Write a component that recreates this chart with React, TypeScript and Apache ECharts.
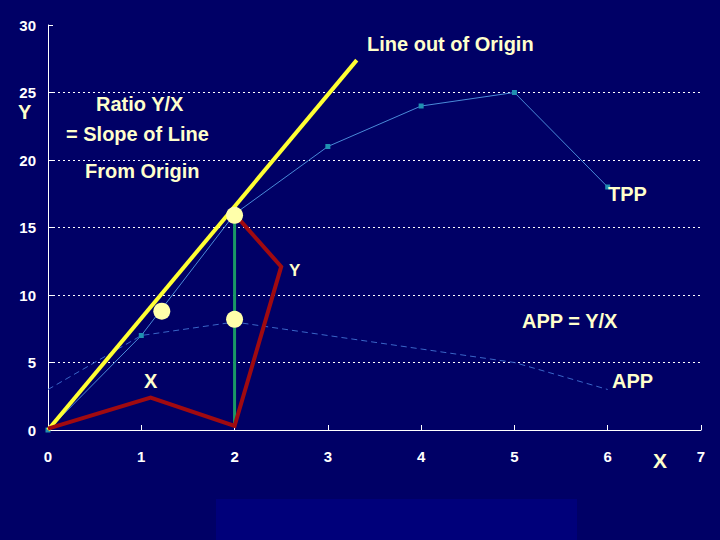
import React, { useEffect, useRef } from "react";
import * as echarts from "echarts";

const xTicks = [0, 1, 2, 3, 4, 5, 6, 7];
const tppX = [0, 1, 2, 3, 4, 5, 6];
const tppY = [0, 7, 16, 21, 24, 25, 18];
const appY = [3, 7, 8, 7, 6, 5, 3];
const rayLine = [[0, 0], [3.31, 27.4]];
const redPath = [[0, 0.1], [1.1, 2.4], [2, 0.3], [2.5, 12.1], [2.05, 15.6]];
const greenLine = [[2, 0.2], [2, 15.9]];
const dots = [[2, 15.9], [1.22, 8.8], [2, 8.2]];

const BG = "#000066";
const TXT = "#ffffcc";

export default function App() {
  const ref = useRef<HTMLDivElement>(null);
  useEffect(() => {
    const chart = echarts.init(ref.current!, null, { renderer: "svg" });
    const lbl = (text: string, x: number, y: number, size = 20) => ({
      type: "text",
      left: x,
      top: y,
      style: {
        text,
        fill: TXT,
        font: `bold ${size}px "Liberation Sans", Arial, sans-serif`,
      },
      z: 100,
    });
    chart.setOption({
      animation: false,
      backgroundColor: BG,
      grid: { left: 48, right: 19, top: 25, bottom: 110, containLabel: false },
      xAxis: {
        type: "value",
        min: 0,
        max: 7,
        interval: 1,
        axisLine: { lineStyle: { color: "#ffffff", width: 1 } },
        axisTick: { inside: true, length: 5, lineStyle: { color: "#ffffff" } },
        axisLabel: {
          color: "#ffffff",
          fontWeight: "bold",
          fontSize: 15,
          fontFamily: "Liberation Sans, Arial, sans-serif",
          margin: 19,
        },
        splitLine: { show: false },
      },
      yAxis: {
        type: "value",
        min: 0,
        max: 30,
        interval: 5,
        axisLine: { show: true, lineStyle: { color: "#ffffff", width: 1 } },
        axisTick: { show: true, inside: true, length: 5, lineStyle: { color: "#ffffff" } },
        axisLabel: {
          color: "#ffffff",
          fontWeight: "bold",
          fontSize: 15,
          fontFamily: "Liberation Sans, Arial, sans-serif",
          margin: 12,
        },
        splitLine: {
          show: true,
          showMinLine: false,
          showMaxLine: false,
          lineStyle: { color: "#ffffff", type: [2, 3], width: 1 },
        },
      },
      graphic: [
        {
          type: "rect",
          shape: { x: 216, y: 499, width: 361, height: 41 },
          style: { fill: "#00007a" },
          z: -10,
        },
        lbl("Line out of Origin", 367, 34),
        lbl("Ratio Y/X", 96, 94),
        lbl("= Slope of Line", 66, 124),
        lbl("From Origin", 85, 161),
        lbl("TPP", 608, 184),
        lbl("Y", 289, 262, 17),
        lbl("APP = Y/X", 522, 311),
        lbl("X", 144, 371),
        lbl("APP", 612, 371),
        lbl("X", 653, 450, 21),
        lbl("Y", 18, 102, 20),
      ],
      series: [
        {
          name: "TPP",
          type: "line",
          data: tppX.map((x, i) => [x, tppY[i]]),
          lineStyle: { color: "#4a8ad8", width: 1 },
          symbol: "rect",
          symbolSize: 5,
          itemStyle: { color: "#2090b0" },
          z: 3,
        },
        {
          name: "APP",
          type: "line",
          data: tppX.map((x, i) => [x, appY[i]]),
          lineStyle: { color: "#3a66c8", width: 1, type: [6, 4] },
          symbol: "none",
          z: 3,
        },
        {
          name: "Ray",
          type: "line",
          data: rayLine,
          lineStyle: { color: "#ffff33", width: 4 },
          symbol: "none",
          z: 4,
        },
        {
          name: "Green",
          type: "line",
          data: greenLine,
          lineStyle: { color: "#1a9966", width: 3, opacity: 1 },
          symbol: "none",
          z: 4,
        },
        {
          name: "Red",
          type: "line",
          data: redPath,
          lineStyle: { color: "#a00a10", width: 4, join: "miter" },
          symbol: "none",
          z: 4,
        },
        {
          name: "Dots",
          type: "scatter",
          data: dots,
          symbolSize: 17,
          itemStyle: { color: "#ffffaa", opacity: 1 },
          z: 6,
        },
      ],
    });
    return () => chart.dispose();
  }, []);
  return (
    <div
      ref={ref}
      style={{ position: "fixed", left: 0, top: 0, width: 720, height: 540 }}
    />
  );
}
